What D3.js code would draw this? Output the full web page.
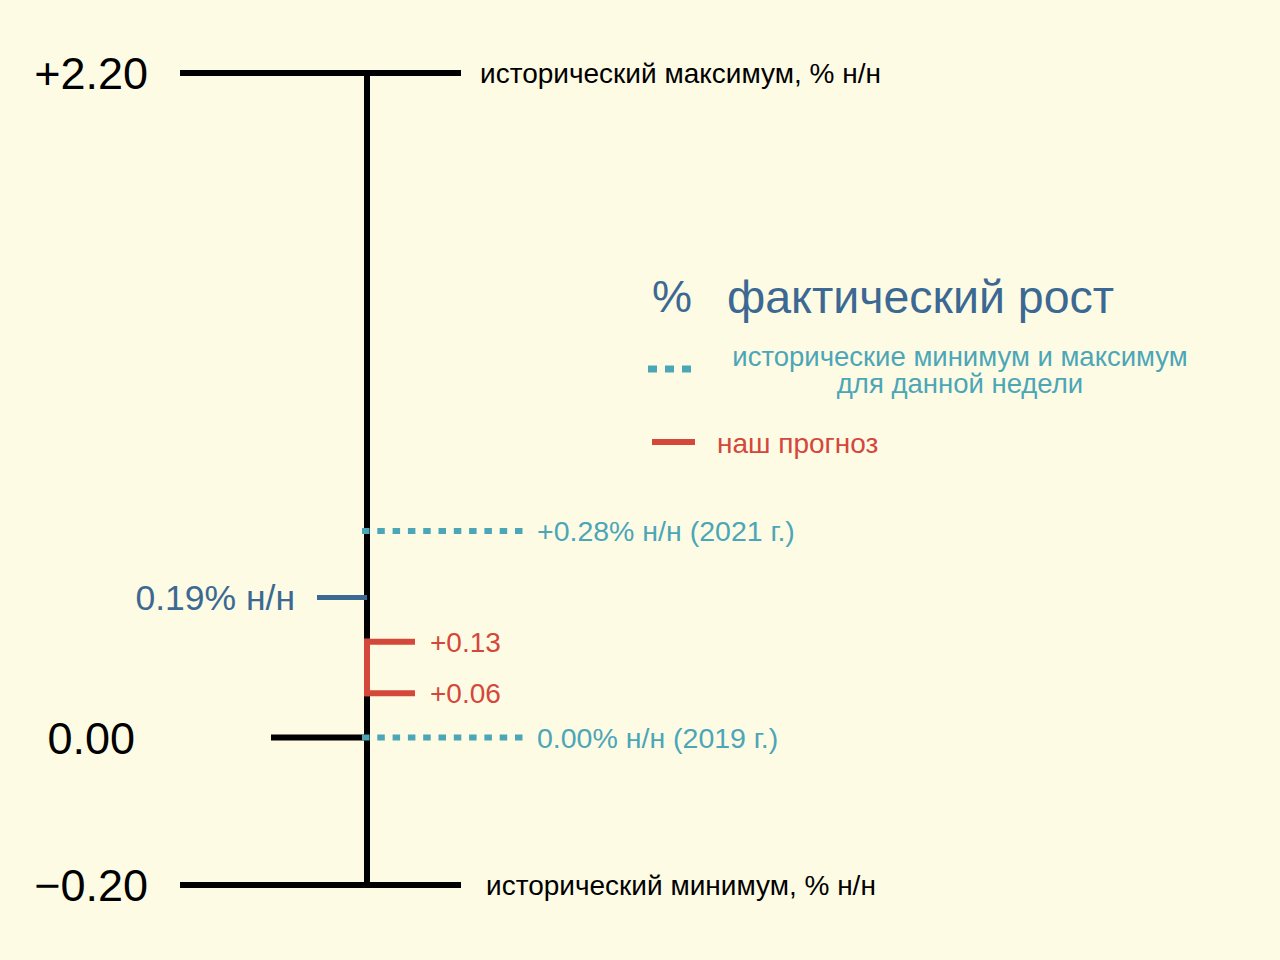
<!DOCTYPE html>
<html><head><meta charset="utf-8">
<script src="https://cdn.jsdelivr.net/npm/d3@7/dist/d3.min.js"></script>
<style>html,body{margin:0;padding:0;background:#fefbe4;}svg{display:block;font-family:"Liberation Sans",Arial,sans-serif;}</style>
</head><body>
<script>
// Data
const axisTicks = [2.20, 0.00, -0.20];
const axisTickLabels = ["+2.20", "0.00", "\u22120.20"];
const extremeLabels = ["исторический максимум, % н/н", "исторический минимум, % н/н"];
const histWeekValues = [0.28, 0.00];
const histWeekLabels = ["+0.28% н/н (2021 г.)", "0.00% н/н (2019 г.)"];
const actualValue = 0.19;
const actualLabel = "0.19% н/н";
const forecastValues = [0.13, 0.06];
const forecastLabels = ["+0.13", "+0.06"];
const legendItems = ["фактический рост", "исторические минимум и максимум", "для данной недели", "наш прогноз"];

const W = 1280, H = 960;
const BG = "#fefbe4", BLACK = "#000", BLUE = "#3b6993", TEAL = "#4ba6b8", RED = "#d4473b";

const svg = d3.select("body").append("svg").attr("width", W).attr("height", H);
svg.append("rect").attr("width", W).attr("height", H).attr("fill", BG);

// piecewise scale (compressed upper part)
const y = d3.scaleLinear().domain([-0.20, 0.28, 2.20]).range([885, 531, 73]);
const ax = 367;

// main vertical axis
svg.append("line").attr("x1", ax).attr("x2", ax).attr("y1", y(2.20)).attr("y2", y(-0.20))
  .attr("stroke", BLACK).attr("stroke-width", 6);

// extreme bars
[2.20, -0.20].forEach((v, i) => {
  svg.append("line").attr("x1", 180).attr("x2", 461).attr("y1", y(v)).attr("y2", y(v))
    .attr("stroke", BLACK).attr("stroke-width", 6);
  svg.append("text").attr("x", i === 0 ? 480 : 486).attr("y", y(v)).attr("dy", "0.35em")
    .attr("font-size", 28).attr("fill", BLACK).text(extremeLabels[i]);
});
// zero bar
svg.append("line").attr("x1", 271).attr("x2", ax).attr("y1", y(0)).attr("y2", y(0))
  .attr("stroke", BLACK).attr("stroke-width", 6);

// tick labels
const tlX = [148, 135, 148];
axisTicks.forEach((v, i) => {
  svg.append("text").attr("x", tlX[i]).attr("y", y(v)).attr("dy", "0.36em")
    .attr("text-anchor", "end").attr("font-size", 45).attr("fill", BLACK).text(axisTickLabels[i]);
});

// historical week min/max (dotted)
histWeekValues.forEach((v, i) => {
  svg.append("line").attr("x1", 362).attr("x2", 526).attr("y1", y(v)).attr("y2", y(v))
    .attr("stroke", TEAL).attr("stroke-width", 6).attr("stroke-dasharray", "7.5,7.8");
  svg.append("text").attr("x", 537).attr("y", y(v)).attr("dy", "0.36em")
    .attr("font-size", 28.5).attr("fill", TEAL).text(histWeekLabels[i]);
});

// actual
svg.append("line").attr("x1", 317).attr("x2", ax).attr("y1", y(actualValue)).attr("y2", y(actualValue))
  .attr("stroke", BLUE).attr("stroke-width", 5);
svg.append("text").attr("x", 295).attr("y", y(actualValue)).attr("dy", "0.36em")
  .attr("text-anchor", "end").attr("font-size", 35.5).attr("fill", BLUE).text(actualLabel);

// forecast bracket
svg.append("line").attr("x1", ax).attr("x2", ax)
  .attr("y1", y(forecastValues[0]) - 3).attr("y2", y(forecastValues[1]) + 3)
  .attr("stroke", RED).attr("stroke-width", 6);
forecastValues.forEach((v, i) => {
  svg.append("line").attr("x1", 364).attr("x2", 415).attr("y1", y(v)).attr("y2", y(v))
    .attr("stroke", RED).attr("stroke-width", 6);
  svg.append("text").attr("x", 430).attr("y", y(v)).attr("dy", "0.36em")
    .attr("font-size", 28).attr("fill", RED).text(forecastLabels[i]);
});

// legend
svg.append("text").attr("x", 652).attr("y", 296).attr("dy", "0.36em")
  .attr("font-size", 45).attr("fill", BLUE).text("%");
svg.append("text").attr("x", 727).attr("y", 296).attr("dy", "0.36em")
  .attr("font-size", 46.5).attr("fill", BLUE).text(legendItems[0]);
svg.append("line").attr("x1", 648).attr("x2", 691).attr("y1", 369).attr("y2", 369)
  .attr("stroke", TEAL).attr("stroke-width", 7).attr("stroke-dasharray", "9,8");
svg.append("text").attr("x", 960).attr("y", 356).attr("dy", "0.36em").attr("text-anchor", "middle")
  .attr("font-size", 27.5).attr("fill", TEAL).text(legendItems[1]);
svg.append("text").attr("x", 960).attr("y", 383).attr("dy", "0.36em").attr("text-anchor", "middle")
  .attr("font-size", 27.5).attr("fill", TEAL).text(legendItems[2]);
svg.append("line").attr("x1", 652).attr("x2", 695).attr("y1", 442).attr("y2", 442)
  .attr("stroke", RED).attr("stroke-width", 6);
svg.append("text").attr("x", 717).attr("y", 443).attr("dy", "0.36em")
  .attr("font-size", 28).attr("fill", RED).text(legendItems[3]);
</script>
</body></html>
